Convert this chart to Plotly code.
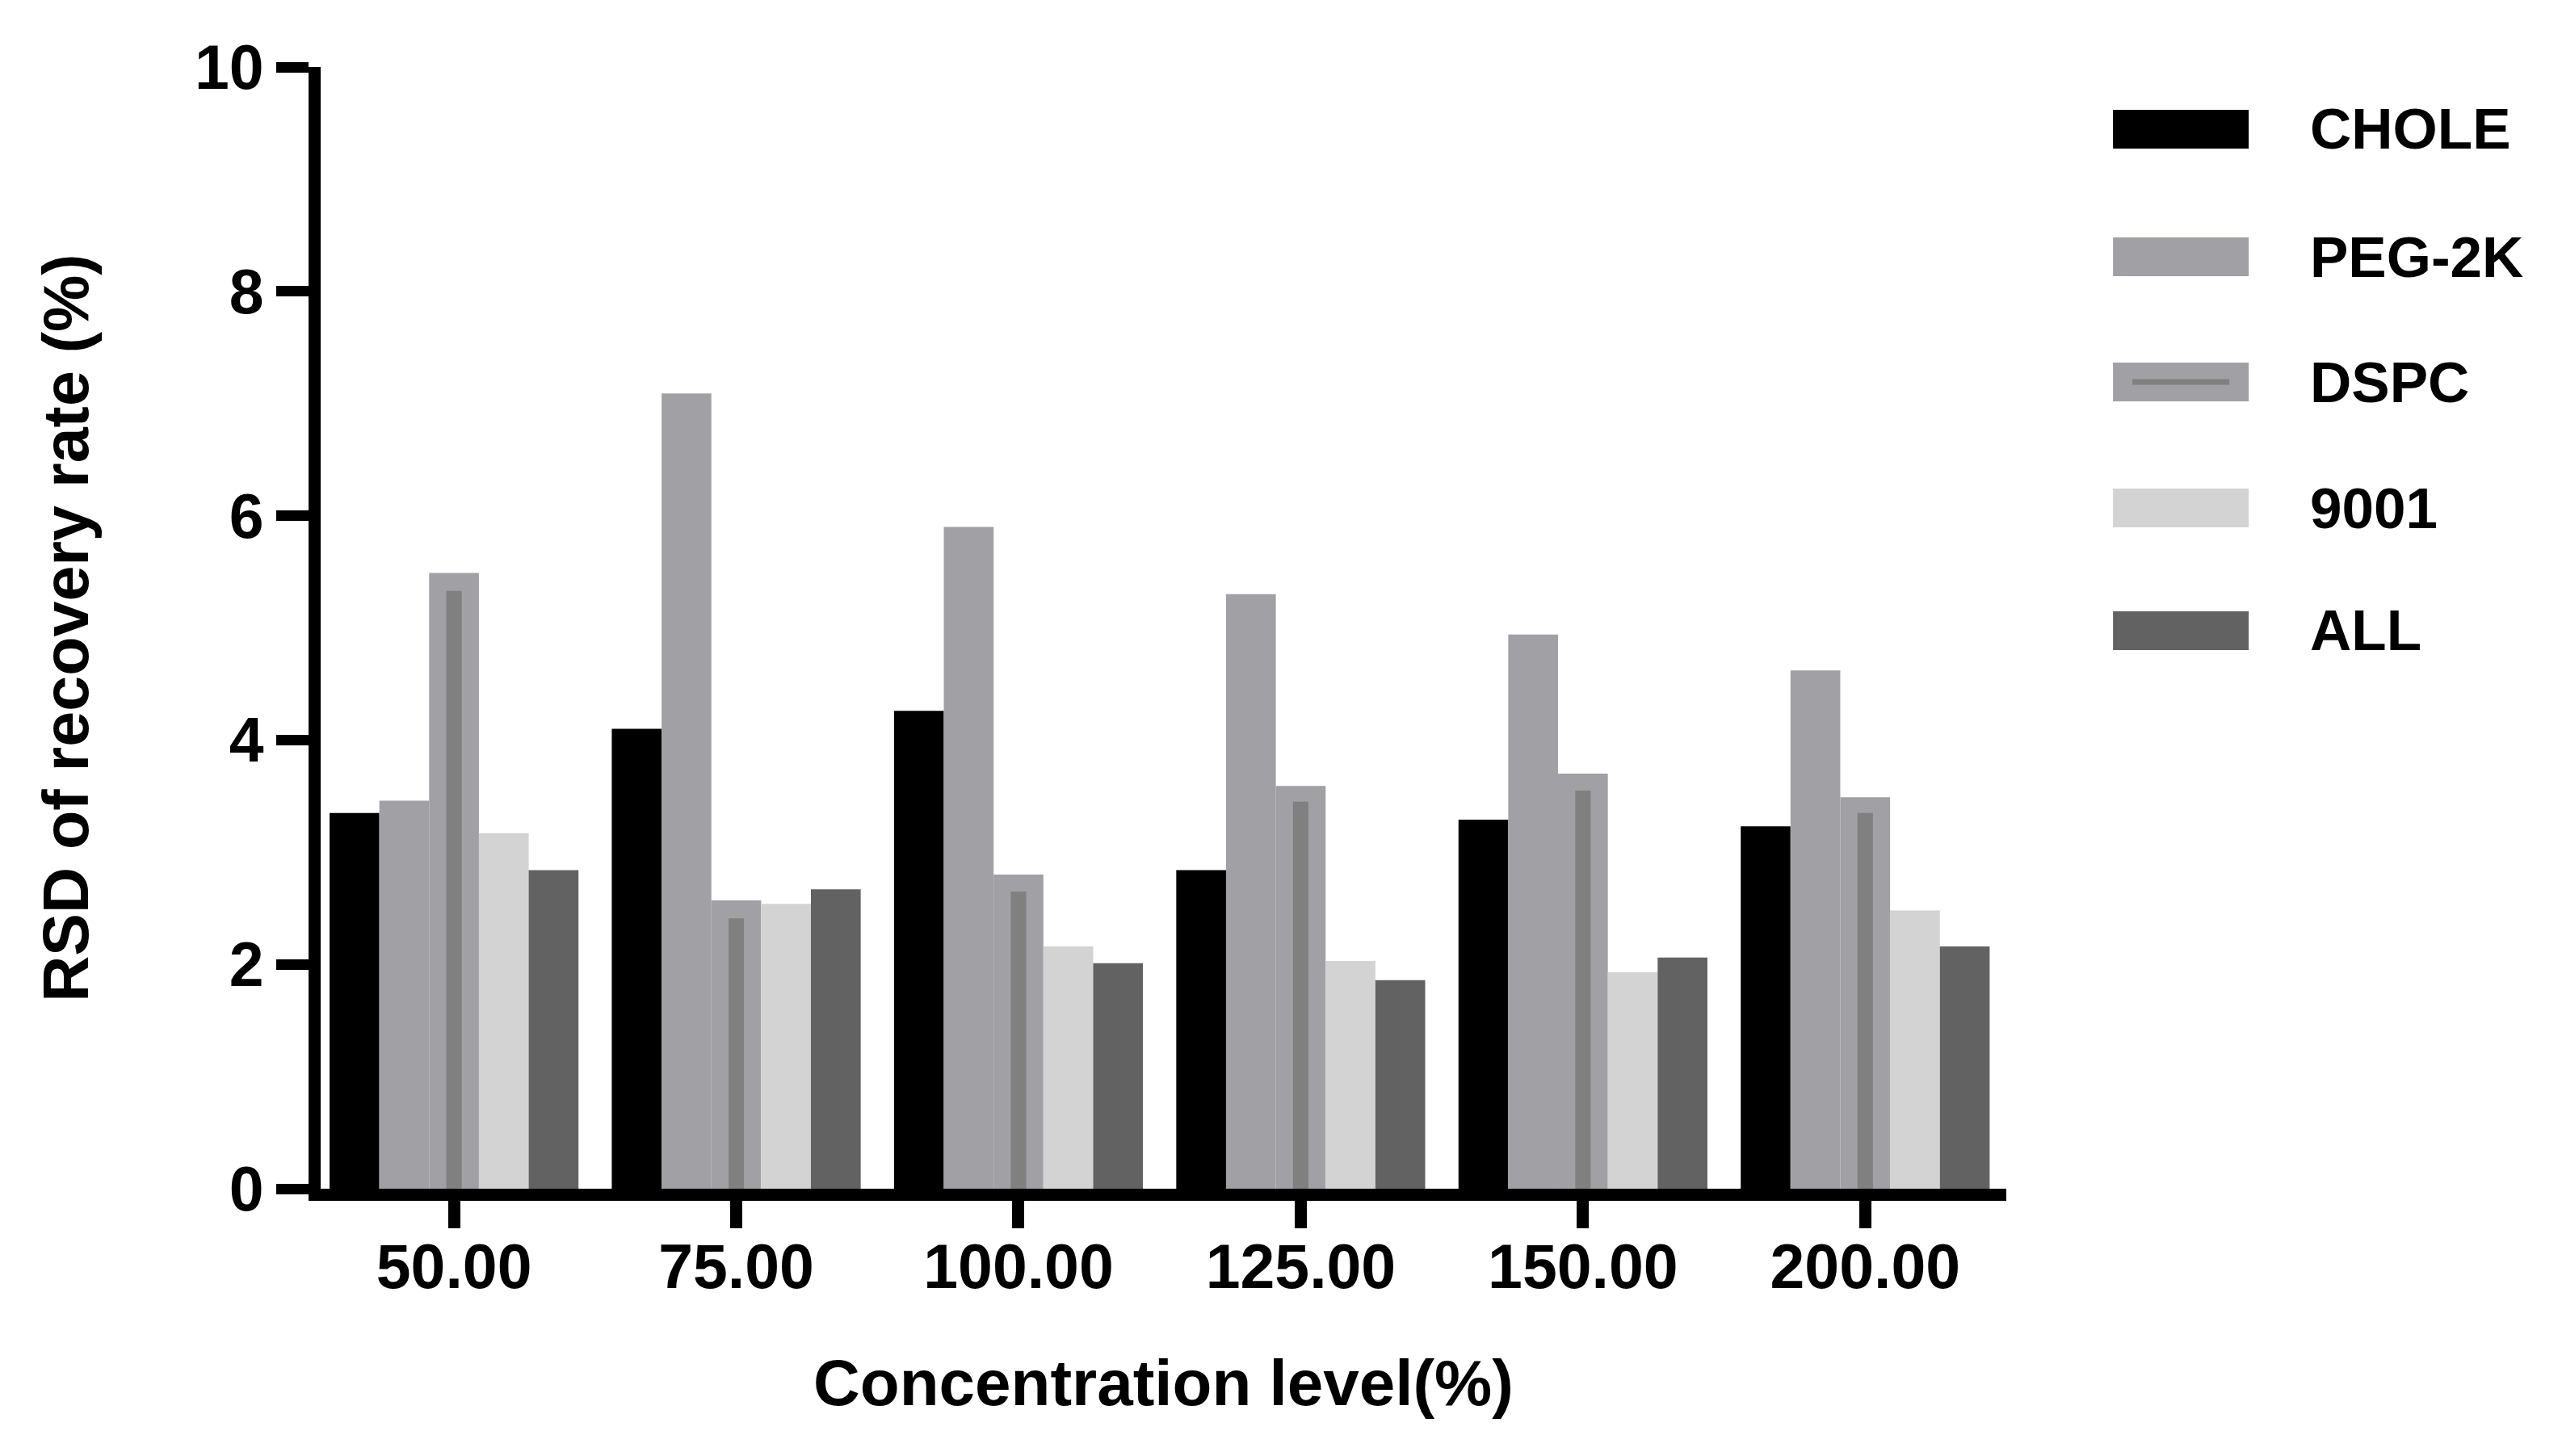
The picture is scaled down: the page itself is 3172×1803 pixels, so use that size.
import plotly.graph_objects as go

categories = ["50.00", "75.00", "100.00", "125.00", "150.00", "200.00"]
series_names = ["CHOLE", "PEG-2K", "DSPC", "9001", "ALL"]
chole = [3.35, 4.10, 4.26, 2.84, 3.29, 3.23]
peg2k = [3.46, 7.09, 5.90, 5.30, 4.94, 4.62]
dspc = [5.49, 2.57, 2.80, 3.59, 3.70, 3.49]
dspc_inner = [5.33, 2.41, 2.65, 3.45, 3.55, 3.35]
s9001 = [3.17, 2.54, 2.16, 2.03, 1.93, 2.48]
all_ = [2.84, 2.67, 2.01, 1.86, 2.06, 2.16]
y_ticks = [0, 2, 4, 6, 8, 10]

colors = ["#000000", "#a1a0a5", "#a1a0a5", "#d3d3d3", "#626262"]
inner_color = "#808080"
FONT = "Arial, Liberation Sans, Helvetica, sans-serif"

values = [chole, peg2k, dspc, s9001, all_]
n = len(values)
group_w = 0.882
bw = group_w / n

fig = go.Figure()
for i, (name, vals, col) in enumerate(zip(series_names, values, colors)):
    fig.add_trace(go.Bar(
        x=categories, y=vals, name=name,
        marker=dict(color=col, line=dict(width=0)),
        width=bw, offset=-group_w / 2 + i * bw,
        showlegend=False,
    ))
inner_w = bw * 0.31
fig.add_trace(go.Bar(
    x=categories, y=dspc_inner, name="DSPC inner",
    marker=dict(color=inner_color, line=dict(width=0)),
    width=inner_w, offset=-inner_w / 2, showlegend=False,
))

# custom legend (large swatches)
leg_y = [0.9446, 0.8308, 0.7192, 0.6069, 0.4975]
sx0, sx1 = 1.0633, 1.1438
hh = 0.0173
shapes = []
annotations = []
for name, col, yc in zip(series_names, colors, leg_y):
    shapes.append(dict(type="rect", xref="paper", yref="paper",
                       x0=sx0, x1=sx1, y0=yc - hh, y1=yc + hh,
                       fillcolor=col, line=dict(width=0)))
    if name == "DSPC":
        shapes.append(dict(type="rect", xref="paper", yref="paper",
                           x0=sx0 + 0.0115, x1=sx1 - 0.0115, y0=yc - 0.0025, y1=yc + 0.0025,
                           fillcolor=inner_color, line=dict(width=0)))
    annotations.append(dict(text=name, xref="paper", yref="paper", x=1.1792, y=yc,
                            xanchor="left", yanchor="middle", showarrow=False,
                            font=dict(family=FONT, size=71, color="black", weight="bold")))

fig.update_layout(
    width=3164, height=1795, autosize=False,
    barmode="overlay",
    plot_bgcolor="white", paper_bgcolor="white",
    margin=dict(l=389, r=688, t=75, b=331),
    shapes=shapes, annotations=annotations,
    showlegend=False,
)
fig.update_xaxes(
    type="category", range=[-0.4725, 5.5],
    showline=True, linecolor="black", linewidth=15,
    ticks="outside", ticklen=34, tickwidth=15, tickcolor="black",
    ticklabelstandoff=-18,
    tickfont=dict(family=FONT, size=77, color="black", weight="bold"),
    showgrid=False, zeroline=False,
    title=dict(text="Concentration level(%)", standoff=80,
               font=dict(family=FONT, size=80, color="black", weight="bold")),
)
fig.update_yaxes(
    range=[0, 10], tickvals=y_ticks, ticktext=[str(v) for v in y_ticks],
    showline=True, linecolor="black", linewidth=15,
    ticks="outside", ticklen=40, tickwidth=13, tickcolor="black",
    tickfont=dict(family=FONT, size=77, color="black", weight="bold"),
    showgrid=False, zeroline=False,
    title=dict(text="RSD of recovery rate (%)", standoff=112,
               font=dict(family=FONT, size=79, color="black", weight="bold")),
)

fig.write_html("out.html")
